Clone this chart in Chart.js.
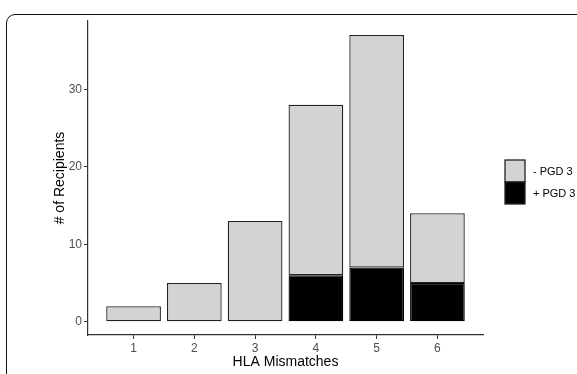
<!DOCTYPE html>
<html>
<head>
<meta charset="utf-8">
<script src="https://cdn.jsdelivr.net/npm/chart.js@4"></script>
<style>
    body { margin: 0; background: #fff; overflow: hidden; }
    #marco {
        position: absolute; left: 6px; top: 14px;
        width: 640px; height: 420px;
        border: 1.5px solid #111; border-radius: 9px;
    }
    #grafica { position: absolute; left: 0; top: 0; }
</style>
</head>
<body>
<div id="marco"></div>
<canvas id="grafica" width="577" height="374"></canvas>
<script>
const mismatches = [1, 2, 3, 4, 5, 6];
const pgdPositivo = [0, 0, 0, 6, 7, 5];
const pgdNegativo = [2, 5, 13, 22, 30, 9];
const yTicks = [0, 10, 20, 30];
const leyenda = ['- PGD 3', '+ PGD 3'];

const FUENTE = '"Liberation Sans", Arial, sans-serif';
const GRIS = '#d3d3d3';
const BORDE = '#222';

// leyenda a la derecha, como en ggplot
const pluginLeyenda = {
    id: 'leyendaDerecha',
    afterDraw(chart) {
        const ctx = chart.ctx;
        const x = 505, y = 160, w = 20, h = 22;
        const colores = [GRIS, '#000'];
        ctx.save();
        colores.forEach((c, i) => {
            ctx.fillStyle = c;
            ctx.fillRect(x, y + i * h, w, h);
            ctx.strokeStyle = BORDE;
            ctx.lineWidth = 1.3;
            ctx.strokeRect(x, y + i * h, w, h);
        });
        ctx.fillStyle = '#000';
        ctx.font = '11px ' + FUENTE;
        ctx.textBaseline = 'middle';
        leyenda.forEach((t, i) => ctx.fillText(t, x + 28, y + i * h + h / 2 + 1));
        ctx.restore();
    }
};

new Chart(document.getElementById('grafica'), {
    type: 'bar',
    data: {
        datasets: [{
            label: leyenda[1],
            data: mismatches.map((m, i) => ({ x: m, y: pgdPositivo[i] })),
            backgroundColor: '#000',
            borderColor: '#000',
            borderWidth: 1.3,
            borderSkipped: false,
            categoryPercentage: 0.9,
            barPercentage: 1
        }, {
            label: leyenda[0],
            data: mismatches.map((m, i) => ({ x: m, y: pgdNegativo[i] })),
            backgroundColor: GRIS,
            borderColor: BORDE,
            borderWidth: 1.3,
            borderSkipped: false,
            categoryPercentage: 0.9,
            barPercentage: 1
        }]
    },
    options: {
        responsive: false,
        animation: false,
        layout: { padding: { top: 21, right: 94, left: 0, bottom: 0 } },
        plugins: { legend: { display: false }, tooltip: { enabled: false } },
        scales: {
            x: {
                type: 'linear',
                stacked: true,
                offset: false,
                min: 0.25,
                max: 6.75,
                afterBuildTicks: s => { s.ticks = mismatches.map(v => ({ value: v })); },
                afterFit: s => { s.height = 39; },
                grid: { offset: false, drawOnChartArea: false, drawTicks: true, tickLength: 4, color: '#333' },
                border: { display: true, color: '#333', width: 1.2 },
                ticks: { color: '#4d4d4d', padding: 2, font: { size: 12, family: FUENTE } },
                title: {
                    display: true, text: 'HLA Mismatches', color: '#000',
                    font: { size: 14, family: FUENTE }, padding: { top: 0, bottom: 3 }
                }
            },
            y: {
                stacked: true,
                min: -1.7,
                max: 38.8,
                afterBuildTicks: s => { s.ticks = yTicks.map(v => ({ value: v })); },
                afterFit: s => { s.width = 88; },
                grid: { drawOnChartArea: false, drawTicks: true, tickLength: 4, color: '#333' },
                border: { display: true, color: '#333', width: 1.2 },
                ticks: { color: '#4d4d4d', padding: 2, font: { size: 12, family: FUENTE } },
                title: {
                    display: true, text: '# of Recipients', color: '#000',
                    font: { size: 14, family: FUENTE }, padding: { top: 52, bottom: 0 }
                }
            }
        }
    },
    plugins: [pluginLeyenda]
});
</script>
</body>
</html>
